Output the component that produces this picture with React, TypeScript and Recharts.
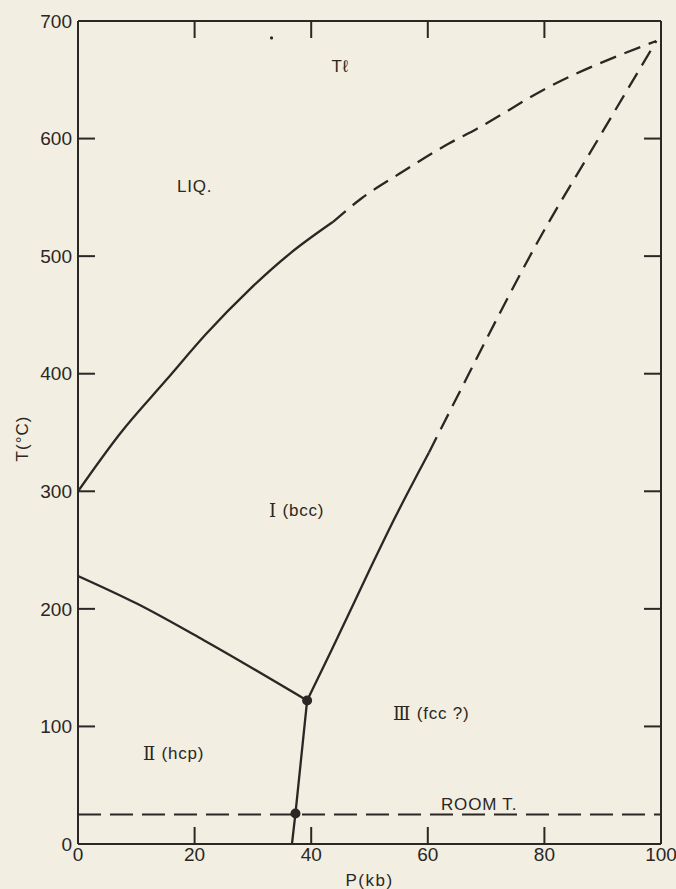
import React from 'react';
import { ComposedChart, Line, XAxis, YAxis, Scatter } from 'recharts';

// Phase diagram of thallium (P in kb, T in °C)
const meltSolid = [
  { P: 0, T: 300 }, { P: 7.2, T: 349 }, { P: 15.2, T: 395 }, { P: 22, T: 434 },
  { P: 29.5, T: 472 }, { P: 36.3, T: 502 }, { P: 43.7, T: 529 },
];
const meltDashed = [
  { P: 43.7, T: 529 }, { P: 48.6, T: 549 }, { P: 55.1, T: 570 }, { P: 63.7, T: 596 },
  { P: 68.3, T: 608 }, { P: 80.8, T: 644 }, { P: 99.2, T: 683 },
];
const bound12 = [
  { P: 0, T: 228 }, { P: 10, T: 204.7 }, { P: 21.5, T: 173.5 }, { P: 39.3, T: 122 },
];
const bound13Solid = [
  { P: 39.3, T: 122 }, { P: 43.5, T: 165 }, { P: 50, T: 233 }, { P: 53.4, T: 268 }, { P: 60.2, T: 333 },
];
const bound13Dashed = [
  { P: 60.2, T: 333 }, { P: 64.8, T: 378 }, { P: 72.3, T: 451 }, { P: 78.5, T: 509 },
  { P: 89.4, T: 601 }, { P: 99.2, T: 683 },
];
const bound23 = [{ P: 39.3, T: 122 }, { P: 37.3, T: 26 }, { P: 36.7, T: 0 }];
const roomT = [{ P: 0, T: 25 }, { P: 100, T: 25 }];
const triplePoints = [{ P: 39.3, T: 122 }, { P: 37.3, T: 26 }];
const speck = [{ P: 33.2, T: 685.6 }];

const regionLabels = [
  { P: 45.0, T: 661, text: 'Tℓ' },
  { P: 20.0, T: 559, text: 'LIQ.' },
  { P: 37.5, T: 284, num: 'Ⅰ', text: ' (bcc)' },
  { P: 16.4, T: 77, num: 'Ⅱ', text: ' (hcp)' },
  { P: 60.6, T: 111, num: 'Ⅲ', text: ' (fcc ?)' },
  { P: 68.8, T: 34, text: 'ROOM T.' },
];

const xTicks = [0, 20, 40, 60, 80, 100];
const yTicks = [0, 100, 200, 300, 400, 500, 600, 700];

const INK = '#2a2724';
const BG = '#f2eee1';
const FONT = '"Liberation Sans", Arial, sans-serif';

const LabelShape = (props: any) => {
  const { cx, cy, payload } = props;
  return (
    <text x={cx} y={cy} textAnchor="middle" dominantBaseline="central"
      fontFamily={FONT} fontSize={17} fill={INK} letterSpacing={0.8}>
      {payload.num ? <tspan fontFamily='"DejaVu Serif", serif' fontSize={18}>{payload.num}</tspan> : null}
      {payload.text}
    </text>
  );
};

const DotShape = (props: any) => <circle cx={props.cx} cy={props.cy} r={5} fill={INK} />;
const SpeckShape = (props: any) => <circle cx={props.cx} cy={props.cy} r={1.6} fill={INK} />;
const NoTick = () => <g />;

const YLabel = (props: any) => {
  const vb = props.viewBox;
  const x = 22;
  const y = vb.y + vb.height / 2 + 6;
  return (
    <text x={x} y={y} transform={`rotate(-90 ${x} ${y})`} textAnchor="middle" dominantBaseline="central"
      fontFamily={FONT} fontSize={17} fill={INK} letterSpacing={1}>T(°C)</text>
  );
};

const tickStyle = { fontFamily: FONT, fontSize: 19, fill: INK };

export default function App() {
  return (
    <div style={{ position: 'absolute', left: 0, top: 0, width: 676, height: 889, background: BG }}>
      <ComposedChart width={676} height={889} margin={{ top: 20, right: 14, bottom: 0, left: 0 }}>
        <XAxis xAxisId={0} dataKey="P" type="number" domain={[0, 100]} ticks={xTicks}
          allowDataOverflow height={45} interval={0}
          axisLine={{ stroke: INK, strokeWidth: 2 }} tickLine={{ stroke: INK, strokeWidth: 2 }}
          tickSize={-17} tickMargin={21} tick={tickStyle}
          label={{ value: 'P(kb)', position: 'insideBottom', offset: 3, fontFamily: FONT, fontSize: 17, fill: INK, letterSpacing: 1.5 }} />
        <XAxis xAxisId="top" orientation="top" dataKey="P" type="number" domain={[0, 100]} ticks={xTicks}
          allowDataOverflow height={1} interval={0}
          axisLine={{ stroke: INK, strokeWidth: 2 }} tickLine={{ stroke: INK, strokeWidth: 2 }}
          tickSize={-17} tickMargin={0} tick={<NoTick />} />
        <YAxis yAxisId={0} dataKey="T" type="number" domain={[0, 700]} ticks={yTicks}
          allowDataOverflow width={78} interval={0}
          axisLine={{ stroke: INK, strokeWidth: 2 }} tickLine={{ stroke: INK, strokeWidth: 2 }}
          tickSize={-17} tickMargin={23} tick={tickStyle}
          label={<YLabel />} />
        <YAxis yAxisId="right" orientation="right" dataKey="T" type="number" domain={[0, 700]} ticks={yTicks}
          allowDataOverflow width={1} interval={0}
          axisLine={{ stroke: INK, strokeWidth: 2 }} tickLine={{ stroke: INK, strokeWidth: 2 }}
          tickSize={-17} tickMargin={0} tick={<NoTick />} />

        <Line xAxisId="top" yAxisId="right" data={roomT} dataKey="T" type="linear" stroke="none" dot={false} isAnimationActive={false} />
        <Line data={roomT} dataKey="T" type="linear" stroke={INK} strokeWidth={2} strokeDasharray="23 9" dot={false} isAnimationActive={false} />
        <Line data={meltSolid} dataKey="T" type="monotone" stroke={INK} strokeWidth={2.3} dot={false} isAnimationActive={false} />
        <Line data={meltDashed} dataKey="T" type="monotone" stroke={INK} strokeWidth={2.3} strokeDasharray="17 9" dot={false} isAnimationActive={false} />
        <Line data={bound12} dataKey="T" type="monotone" stroke={INK} strokeWidth={2.3} dot={false} isAnimationActive={false} />
        <Line data={bound13Solid} dataKey="T" type="monotone" stroke={INK} strokeWidth={2.3} dot={false} isAnimationActive={false} />
        <Line data={bound13Dashed} dataKey="T" type="monotone" stroke={INK} strokeWidth={2.3} strokeDasharray="17 9" dot={false} isAnimationActive={false} />
        <Line data={bound23} dataKey="T" type="linear" stroke={INK} strokeWidth={2.3} dot={false} isAnimationActive={false} />
        <Scatter data={triplePoints} dataKey="T" shape={<DotShape />} isAnimationActive={false} />
        <Scatter data={speck} dataKey="T" shape={<SpeckShape />} isAnimationActive={false} />
        <Scatter data={regionLabels} dataKey="T" shape={<LabelShape />} isAnimationActive={false} />
      </ComposedChart>
    </div>
  );
}
